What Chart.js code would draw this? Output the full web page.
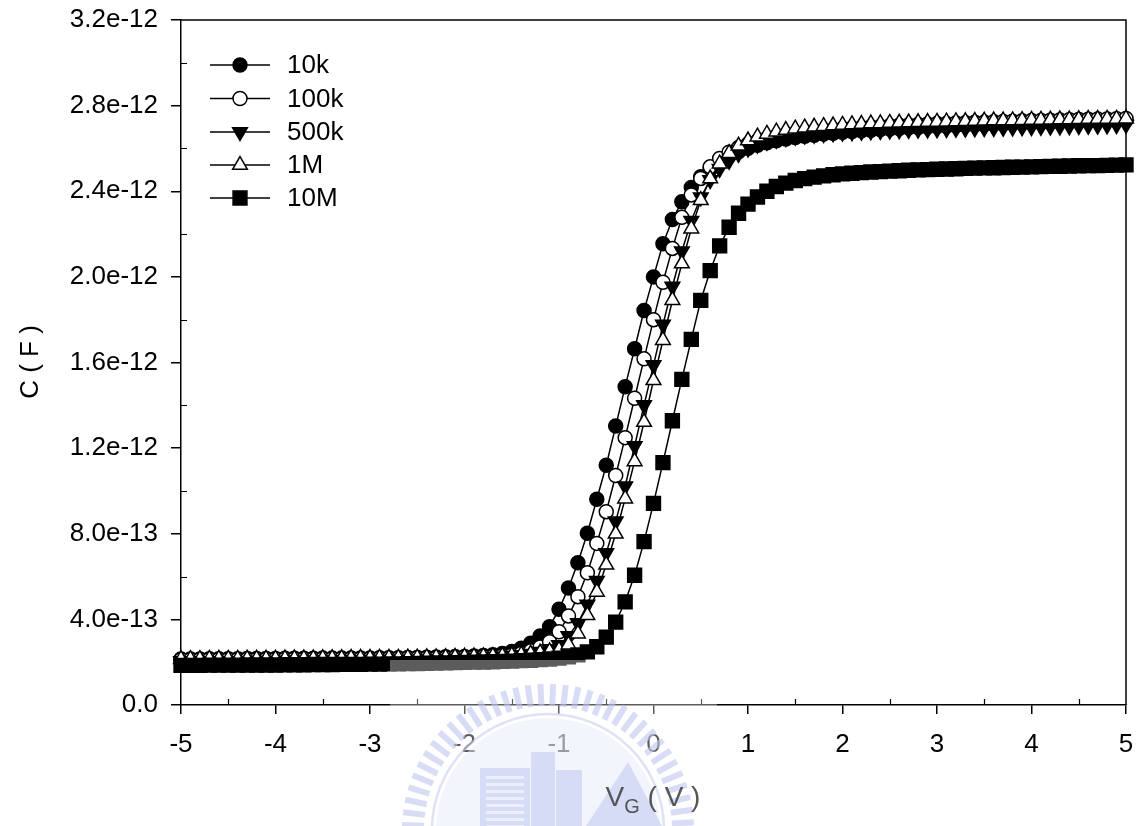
<!DOCTYPE html>
<html>
<head>
<meta charset="utf-8">
<script src="https://cdn.jsdelivr.net/npm/chart.js@4.4.1/dist/chart.umd.min.js"></script>
<style>
  html, body { margin: 0; padding: 0; background: #ffffff; }
  #wrap { position: relative; width: 1142px; height: 826px; }
</style>
</head>
<body>
<div id="wrap"><canvas id="cv" width="1142" height="826"></canvas></div>
<script>
// Gate voltage sweep (V)
const gateVoltage = [
  -5.0,-4.9,-4.8,-4.7,-4.6,-4.5,-4.4,-4.3,-4.2,-4.1,
  -4.0,-3.9,-3.8,-3.7,-3.6,-3.5,-3.4,-3.3,-3.2,-3.1,
  -3.0,-2.9,-2.8,-2.7,-2.6,-2.5,-2.4,-2.3,-2.2,-2.1,
  -2.0,-1.9,-1.8,-1.7,-1.6,-1.5,-1.4,-1.3,-1.2,-1.1,
  -1.0,-0.9,-0.8,-0.7,-0.6,-0.5,-0.4,-0.3,-0.2,-0.1,
   0.0, 0.1, 0.2, 0.3, 0.4, 0.5, 0.6, 0.7, 0.8, 0.9,
   1.0, 1.1, 1.2, 1.3, 1.4, 1.5, 1.6, 1.7, 1.8, 1.9,
   2.0, 2.1, 2.2, 2.3, 2.4, 2.5, 2.6, 2.7, 2.8, 2.9,
   3.0, 3.1, 3.2, 3.3, 3.4, 3.5, 3.6, 3.7, 3.8, 3.9,
   4.0, 4.1, 4.2, 4.3, 4.4, 4.5, 4.6, 4.7, 4.8, 4.9,
   5.0
];

// Measured capacitance in pF for each frequency
const cap10k = [
  0.215,0.215,0.215,0.216,0.216,0.216,0.216,0.217,0.217,0.217,
  0.217,0.218,0.218,0.218,0.218,0.219,0.219,0.219,0.220,0.220,
  0.220,0.221,0.221,0.221,0.222,0.222,0.223,0.224,0.225,0.226,
  0.227,0.229,0.231,0.235,0.241,0.250,0.265,0.288,0.322,0.366,
  0.447,0.547,0.665,0.802,0.961,1.120,1.303,1.487,1.664,1.843,
  2.000,2.155,2.268,2.351,2.418,2.468,2.508,2.540,2.565,2.585,
  2.601,2.615,2.626,2.636,2.644,2.651,2.657,2.662,2.667,2.671,
  2.675,2.679,2.682,2.685,2.688,2.691,2.693,2.696,2.698,2.700,
  2.702,2.704,2.706,2.708,2.709,2.711,2.713,2.714,2.716,2.717,
  2.719,2.720,2.721,2.723,2.724,2.725,2.727,2.728,2.729,2.730,
  2.732
];
const cap100k = [
  0.212,0.212,0.212,0.213,0.213,0.213,0.213,0.214,0.214,0.214,
  0.214,0.215,0.215,0.215,0.215,0.216,0.216,0.216,0.217,0.217,
  0.217,0.218,0.218,0.218,0.219,0.219,0.220,0.220,0.221,0.222,
  0.223,0.224,0.225,0.227,0.230,0.234,0.241,0.253,0.271,0.296,
  0.342,0.416,0.506,0.618,0.755,0.903,1.072,1.249,1.433,1.617,
  1.800,1.975,2.133,2.278,2.383,2.460,2.514,2.553,2.582,2.604,
  2.621,2.635,2.646,2.655,2.663,2.669,2.675,2.680,2.684,2.688,
  2.692,2.695,2.698,2.701,2.703,2.706,2.708,2.710,2.712,2.714,
  2.716,2.717,2.719,2.720,2.722,2.723,2.725,2.726,2.727,2.729,
  2.730,2.731,2.732,2.733,2.734,2.735,2.736,2.737,2.738,2.739,
  2.740
];
const cap500k = [
  0.205,0.205,0.205,0.206,0.206,0.206,0.206,0.207,0.207,0.207,
  0.207,0.208,0.208,0.208,0.209,0.209,0.209,0.210,0.210,0.210,
  0.211,0.211,0.212,0.212,0.213,0.213,0.214,0.215,0.216,0.217,
  0.218,0.220,0.222,0.224,0.227,0.230,0.234,0.240,0.249,0.262,
  0.280,0.322,0.383,0.469,0.581,0.710,0.858,1.022,1.210,1.401,
  1.588,1.777,1.955,2.120,2.262,2.372,2.452,2.505,2.543,2.575,
  2.600,2.618,2.631,2.641,2.649,2.655,2.660,2.664,2.668,2.671,
  2.674,2.676,2.678,2.680,2.682,2.684,2.685,2.687,2.688,2.689,
  2.690,2.691,2.692,2.693,2.694,2.695,2.696,2.697,2.698,2.699,
  2.700,2.701,2.702,2.703,2.704,2.705,2.706,2.707,2.708,2.709,
  2.711
];
const cap1M = [
  0.214,0.214,0.214,0.215,0.215,0.215,0.215,0.216,0.216,0.216,
  0.216,0.217,0.217,0.217,0.217,0.218,0.218,0.218,0.219,0.219,
  0.219,0.220,0.220,0.220,0.221,0.221,0.222,0.222,0.223,0.224,
  0.225,0.226,0.227,0.228,0.230,0.232,0.235,0.239,0.244,0.250,
  0.258,0.282,0.333,0.419,0.528,0.655,0.800,0.964,1.138,1.322,
  1.517,1.704,1.891,2.062,2.225,2.358,2.459,2.529,2.578,2.612,
  2.637,2.655,2.668,2.678,2.686,2.692,2.697,2.701,2.704,2.707,
  2.710,2.712,2.714,2.716,2.717,2.719,2.720,2.721,2.722,2.723,
  2.724,2.725,2.726,2.727,2.728,2.729,2.730,2.730,2.731,2.732,
  2.733,2.733,2.734,2.735,2.735,2.736,2.737,2.737,2.738,2.738,
  2.739
];
const cap10M = [
  0.185,0.185,0.185,0.186,0.186,0.186,0.186,0.187,0.187,0.187,
  0.187,0.188,0.188,0.188,0.189,0.189,0.189,0.190,0.190,0.190,
  0.191,0.191,0.192,0.192,0.193,0.194,0.195,0.196,0.197,0.198,
  0.199,0.200,0.201,0.202,0.204,0.205,0.207,0.209,0.212,0.215,
  0.219,0.225,0.234,0.248,0.272,0.317,0.387,0.482,0.606,0.763,
  0.942,1.132,1.328,1.521,1.708,1.890,2.029,2.145,2.232,2.297,
  2.340,2.373,2.400,2.422,2.438,2.450,2.459,2.466,2.472,2.477,
  2.481,2.484,2.487,2.490,2.492,2.494,2.496,2.498,2.500,2.501,
  2.503,2.504,2.505,2.507,2.508,2.509,2.510,2.511,2.512,2.513,
  2.514,2.515,2.516,2.517,2.518,2.519,2.520,2.520,2.521,2.522,
  2.523
];

const seriesLabels = ['10k', '100k', '500k', '1M', '10M'];
const xMajorTicks = [-5, -4, -3, -2, -1, 0, 1, 2, 3, 4, 5];
const xMinorTicks = [-4.5, -3.5, -2.5, -1.5, -0.5, 0.5, 1.5, 2.5, 3.5, 4.5];
const yMinorTicks = [0.2, 0.6, 1.0, 1.4, 1.8, 2.2, 2.6, 3.0];

const FONT = "'Liberation Sans', Arial, Helvetica, sans-serif";

function toPoints(values) {
  return values.map((v, i) => ({ x: gateVoltage[i], y: v }));
}

// marker look per frequency
const markerStyles = [
  { pointStyle: 'circle',   rotation: 0,   radius: 7,   fill: '#000000' },
  { pointStyle: 'circle',   rotation: 0,   radius: 7,   fill: '#ffffff' },
  { pointStyle: 'triangle', rotation: 180, radius: 8.5, fill: '#000000' },
  { pointStyle: 'triangle', rotation: 0,   radius: 8.5, fill: '#ffffff' },
  { pointStyle: 'rect',     rotation: 0,   radius: 9.8, fill: '#000000' }
];
const seriesValues = [cap10k, cap100k, cap500k, cap1M, cap10M];

const datasets = seriesValues.map((vals, i) => ({
  label: seriesLabels[i],
  data: toPoints(vals),
  borderColor: '#000000',
  borderWidth: 1.5,
  backgroundColor: markerStyles[i].fill,
  pointStyle: markerStyles[i].pointStyle,
  pointRotation: markerStyles[i].rotation,
  pointRadius: markerStyles[i].radius,
  pointBackgroundColor: markerStyles[i].fill,
  pointBorderColor: '#000000',
  pointBorderWidth: 1.5,
  pointHoverRadius: markerStyles[i].radius,
  tension: 0,
  fill: false,
  clip: false,
  order: 5 - i
}));

function drawMarker(ctx, st, x, y) {
  const r = st.radius;
  ctx.beginPath();
  if (st.pointStyle === 'circle') {
    ctx.arc(x, y, r, 0, Math.PI * 2);
  } else if (st.pointStyle === 'triangle') {
    let rad = st.rotation * Math.PI / 180;
    ctx.moveTo(x + Math.sin(rad) * r, y - Math.cos(rad) * r);
    rad += 2 * Math.PI / 3;
    ctx.lineTo(x + Math.sin(rad) * r, y - Math.cos(rad) * r);
    rad += 2 * Math.PI / 3;
    ctx.lineTo(x + Math.sin(rad) * r, y - Math.cos(rad) * r);
    ctx.closePath();
  } else {
    const s = Math.SQRT1_2 * r;
    ctx.rect(x - s, y - s, 2 * s, 2 * s);
  }
  ctx.fillStyle = st.fill;
  ctx.fill();
  ctx.lineWidth = 1.5;
  ctx.strokeStyle = '#000000';
  ctx.stroke();
}

// box frame and inward minor ticks
const framePlugin = {
  id: 'frame',
  beforeDatasetsDraw(chart) {
    const { ctx, chartArea: a, scales } = chart;
    ctx.save();
    ctx.strokeStyle = '#000000';
    ctx.lineWidth = 1.5;
    ctx.beginPath();
    ctx.moveTo(a.left, a.top); ctx.lineTo(a.right, a.top); ctx.lineTo(a.right, a.bottom);
    ctx.stroke();
    ctx.lineWidth = 1.2;
    ctx.beginPath();
    xMinorTicks.forEach(v => {
      const px = Math.round(scales.x.getPixelForValue(v)) + 0.5;
      ctx.moveTo(px, a.bottom); ctx.lineTo(px, a.bottom - 6);
    });
    yMinorTicks.forEach(v => {
      const py = Math.round(scales.y.getPixelForValue(v)) + 0.5;
      ctx.moveTo(a.left, py); ctx.lineTo(a.left + 6, py);
    });
    ctx.stroke();
    ctx.restore();
  }
};

// legend, axis titles and the faint seal in the lower middle
const decorPlugin = {
  id: 'decor',
  afterDraw(chart) {
    const { ctx } = chart;
    ctx.save();
    // legend
    const rowY = [65, 98.5, 132, 165, 198];
    seriesLabels.forEach((lab, i) => {
      const y = rowY[i];
      ctx.strokeStyle = '#000000';
      ctx.lineWidth = 1.5;
      ctx.beginPath();
      ctx.moveTo(210, y); ctx.lineTo(270, y);
      ctx.stroke();
      drawMarker(ctx, markerStyles[i], 240, y);
      ctx.fillStyle = '#000000';
      ctx.font = '26px ' + FONT;
      ctx.textAlign = 'left';
      ctx.textBaseline = 'middle';
      ctx.fillText(lab, 287, y + 1);
    });

    // y title
    ctx.save();
    ctx.translate(30, 362);
    ctx.rotate(-Math.PI / 2);
    ctx.font = '26px ' + FONT;
    ctx.textAlign = 'center';
    ctx.textBaseline = 'middle';
    ctx.fillStyle = '#000000';
    ctx.fillText('C ( F )', 0, 1);
    ctx.restore();

    // faint seal overlay
    ctx.save();
    ctx.fillStyle = 'rgba(255,255,255,0.36)';
    ctx.fillRect(390, 660, 327, 166);
    ctx.beginPath();
    ctx.rect(392, 664, 323, 162);
    ctx.clip();
    const cx = 548, cy = 830;
    ctx.fillStyle = 'rgba(228,232,248,0.45)';
    ctx.beginPath(); ctx.arc(cx, cy, 112, 0, Math.PI * 2); ctx.fill();
    ctx.strokeStyle = 'rgba(190,198,238,0.6)';
    ctx.lineWidth = 6;
    for (let a = 182; a <= 358; a += 5) {
      const t = a * Math.PI / 180;
      ctx.beginPath();
      ctx.moveTo(cx + Math.cos(t) * 124, cy + Math.sin(t) * 124);
      ctx.lineTo(cx + Math.cos(t) * 146, cy + Math.sin(t) * 146);
      ctx.stroke();
    }
    ctx.lineWidth = 2.5;
    ctx.strokeStyle = 'rgba(200,207,240,0.6)';
    ctx.beginPath(); ctx.arc(cx, cy, 116, Math.PI, 2 * Math.PI); ctx.stroke();
    ctx.fillStyle = 'rgba(190,198,238,0.55)';
    ctx.fillRect(480, 768, 50, 58);
    ctx.fillRect(531, 752, 24, 74);
    ctx.fillRect(556, 770, 26, 56);
    ctx.beginPath();
    ctx.moveTo(586, 826); ctx.lineTo(628, 762); ctx.lineTo(662, 826); ctx.closePath();
    ctx.fill();
    ctx.fillStyle = 'rgba(240,242,251,0.85)';
    for (let y = 776; y < 826; y += 7) ctx.fillRect(486, y, 38, 3);
    ctx.restore();

    // x title with subscript, over the seal
    ctx.font = '28px ' + FONT;
    const wV = ctx.measureText('V').width;
    const wRest = ctx.measureText(' ( V )').width;
    ctx.font = '20px ' + FONT;
    const wG = ctx.measureText('G').width;
    const x0 = 653 - (wV + wG + wRest) / 2;
    const base = 806;
    ctx.textAlign = 'left';
    ctx.textBaseline = 'alphabetic';
    ctx.fillStyle = '#555555';
    ctx.font = '28px ' + FONT;
    ctx.fillText('V', x0, base);
    ctx.font = '20px ' + FONT;
    ctx.fillText('G', x0 + wV, base + 7);
    ctx.font = '28px ' + FONT;
    ctx.fillText(' ( V )', x0 + wV + wG, base);
    ctx.restore();
  }
};

new Chart(document.getElementById('cv'), {
  type: 'line',
  data: { datasets },
  options: {
    responsive: false,
    animation: false,
    devicePixelRatio: 1,
    layout: { padding: { left: 0, right: 16, top: 20, bottom: 0 } },
    plugins: { legend: { display: false }, tooltip: { enabled: false } },
    scales: {
      x: {
        type: 'linear',
        min: -5, max: 5,
        afterBuildTicks(scale) { scale.ticks = xMajorTicks.map(v => ({ value: v })); },
        afterFit(scale) {
          scale.height = 121;
          scale.paddingLeft = 0; scale.paddingRight = 0;
        },
        ticks: {
          color: '#000000',
          font: { family: FONT, size: 26 },
          padding: 15,
          maxRotation: 0,
          autoSkip: false,
          callback: v => String(v)
        },
        grid: { drawOnChartArea: false, drawTicks: true, tickLength: 9, color: '#000000', lineWidth: 1.5 },
        border: { display: true, color: '#000000', width: 1.5 }
      },
      y: {
        min: 0, max: 3.2,
        afterFit(scale) {
          scale.width = 181;
          scale.paddingTop = 0; scale.paddingBottom = 0;
        },
        ticks: {
          stepSize: 0.4,
          color: '#000000',
          font: { family: FONT, size: 26 },
          padding: 13,
          callback: v => (Math.abs(v) < 1e-9 ? '0.0' : (v * 1e-12).toExponential(1))
        },
        grid: { drawOnChartArea: false, drawTicks: true, tickLength: 10, color: '#000000', lineWidth: 1.5 },
        border: { display: true, color: '#000000', width: 1.5 }
      }
    }
  },
  plugins: [framePlugin, decorPlugin]
});
</script>
</body>
</html>
